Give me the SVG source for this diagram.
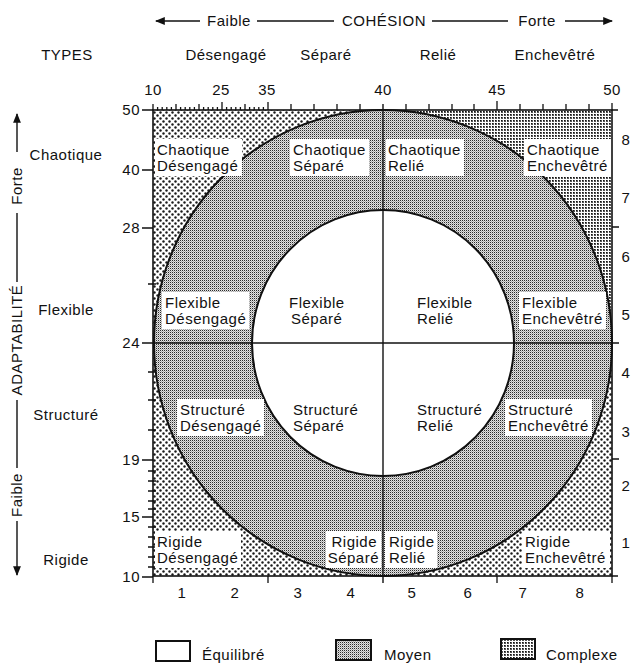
<svg xmlns="http://www.w3.org/2000/svg" width="633" height="666" viewBox="0 0 633 666">
<style>
text{font-family:"Liberation Sans",Arial,sans-serif;font-size:15px;letter-spacing:0.5px;fill:#111}
.ln{stroke:#111;stroke-width:1.4;fill:none}
.tk{stroke:#111;stroke-width:1.3}
.lb{fill:#fff}
.mid{text-anchor:middle}
.end{text-anchor:end}
</style>
<defs>
<pattern id="pDots" width="6" height="6" patternUnits="userSpaceOnUse"><rect width="6" height="6" fill="#fff"/><circle cx="1.5" cy="1.5" r="1.2" fill="#1a1a1a"/><circle cx="4.5" cy="4.5" r="1.2" fill="#1a1a1a"/></pattern>
<pattern id="pFine" width="2" height="2" patternUnits="userSpaceOnUse"><rect width="2" height="2" fill="#e2e2e2"/><rect width="1" height="1" fill="#2a2a2a"/><rect x="1" y="1" width="1" height="1" fill="#aaa"/></pattern>
<pattern id="pGrid" width="3" height="3" patternUnits="userSpaceOnUse"><rect width="3" height="3" fill="#fff"/><rect width="2" height="2" fill="#555"/><rect width="1" height="1" fill="#111"/></pattern>
<marker id="ah" viewBox="0 0 10 10" refX="9" refY="5" markerWidth="7" markerHeight="7" orient="auto-start-reverse"><path d="M0,1 L10,5 L0,9 Z" fill="#111"/></marker>
</defs>

<!-- header -->
<g id="cohesion-axis">
<line class="ln" x1="200" y1="21" x2="156" y2="21" marker-end="url(#ah)"/>
<text x="229" y="26" class="mid">Faible</text>
<line class="ln" x1="257" y1="21" x2="334" y2="21"/>
<text x="384" y="26" class="mid">COHÉSION</text>
<line class="ln" x1="432" y1="21" x2="508" y2="21"/>
<text x="537" y="26" class="mid">Forte</text>
<line class="ln" x1="565" y1="21" x2="612" y2="21" marker-end="url(#ah)"/>
</g>
<g id="types-header">
<text x="67" y="60" class="mid">TYPES</text>
<text x="226" y="60" class="mid">Désengagé</text>
<text x="326" y="60" class="mid">Séparé</text>
<text x="438" y="60" class="mid">Relié</text>
<text x="555" y="60" class="mid">Enchevêtré</text>
</g>
<g id="adaptabilite-axis">
<line class="ln" x1="17" y1="152" x2="17" y2="114" marker-end="url(#ah)"/>
<text transform="translate(22,186) rotate(-90)" class="mid">Forte</text>
<line class="ln" x1="17" y1="213" x2="17" y2="282"/>
<text transform="translate(22,340) rotate(-90)" class="mid">ADAPTABILITÉ</text>
<line class="ln" x1="17" y1="400" x2="17" y2="468"/>
<text transform="translate(22,495) rotate(-90)" class="mid">Faible</text>
<line class="ln" x1="17" y1="521" x2="17" y2="575" marker-end="url(#ah)"/>
</g>
<g id="types-left">
<text x="66" y="160" class="mid">Chaotique</text>
<text x="66" y="315" class="mid">Flexible</text>
<text x="66" y="420" class="mid">Structuré</text>
<text x="66" y="565" class="mid">Rigide</text>
</g>

<!-- plot areas -->
<g id="plot">
<rect x="153" y="110" width="459" height="466" fill="url(#pDots)"/>
<rect x="383" y="110" width="229" height="233" fill="url(#pGrid)"/>
<ellipse cx="383" cy="343" rx="229" ry="233" fill="url(#pFine)" stroke="#111" stroke-width="2"/>
<ellipse cx="383" cy="343" rx="131" ry="133" fill="#fff" stroke="#111" stroke-width="2"/>
</g>

<g id="connectors">
<line class="ln" x1="383" y1="104" x2="383" y2="583"/>
<line class="ln" x1="142" y1="343" x2="619" y2="343"/>
<rect x="153" y="110" width="459" height="466" fill="none" stroke="#111" stroke-width="1.6"/>
</g>

<!-- axes ticks -->
<g id="top-ticks" class="tk">
<path d="M153,104V110M157.6,107V110M162.2,107V110M166.8,107V110M171.4,107V110M176,104V110M180.6,107V110M185.2,107V110M189.8,107V110M194.4,107V110M199,104V110M203.6,107V110M208.2,107V110M212.8,107V110M217.4,107V110M222,102V110M226.6,107V110M231.2,107V110M235.8,107V110M240.4,107V110M245,104V110M249.6,107V110M254.2,107V110M258.8,107V110M263.4,107V110M268,102V110M291,104V110M314,104V110M337,104V110M360,104V110M406,104V110M429,104V110M452,104V110M474,104V110M497,101V110M520,104V110M543,104V110M566,104V110M589,104V110M612,103V110M612,110H618"/>
</g>
<g id="left-ticks" class="tk">
<path d="M142,110H153M142,170H153M142,228H153M142,460H153M142,517H153M142,577H153M148,284H156M148,372H156M148,400H156M148,430H156M148,471H156M148,481H156M148,491H156M148,501H156M148,509H156M148,527H156M148,537H156M148,547H156M148,557H156M148,567H156"/>
</g>
<g id="right-ticks" class="tk">
<path d="M612,227H619M612,459H619M612,576H618M612,576V583M153,576V583M268,576V583M497,576V583"/>
</g>
<g id="axis-numbers">
<text x="153" y="95" class="mid">10</text>
<text x="221" y="95" class="mid">25</text>
<text x="267" y="95" class="mid">35</text>
<text x="383" y="95" class="mid">40</text>
<text x="497" y="95" class="mid">45</text>
<text x="612" y="95" class="mid">50</text>
<text x="140" y="115" class="end">50</text>
<text x="140" y="175" class="end">40</text>
<text x="140" y="233" class="end">28</text>
<text x="140" y="348" class="end">24</text>
<text x="140" y="465" class="end">19</text>
<text x="140" y="522" class="end">15</text>
<text x="140" y="582" class="end">10</text>
<text x="626" y="145" class="mid">8</text>
<text x="626" y="203" class="mid">7</text>
<text x="626" y="262" class="mid">6</text>
<text x="626" y="320" class="mid">5</text>
<text x="626" y="378" class="mid">4</text>
<text x="626" y="437" class="mid">3</text>
<text x="626" y="491" class="mid">2</text>
<text x="626" y="548" class="mid">1</text>
<text x="182" y="598" class="mid">1</text>
<text x="235" y="598" class="mid">2</text>
<text x="298" y="598" class="mid">3</text>
<text x="351" y="598" class="mid">4</text>
<text x="412" y="598" class="mid">5</text>
<text x="468" y="598" class="mid">6</text>
<text x="523" y="598" class="mid">7</text>
<text x="580" y="598" class="mid">8</text>
</g>

<!-- cell labels -->
<g id="chaotique-desengage"><rect class="lb" x="155" y="139" width="87" height="37"/><text x="157" y="155">Chaotique</text><text x="157" y="171">Désengagé</text></g>
<g id="chaotique-separe"><rect class="lb" x="290" y="139" width="79" height="37"/><text x="293" y="155">Chaotique</text><text x="293" y="171">Séparé</text></g>
<g id="chaotique-relie"><rect class="lb" x="386" y="139" width="78" height="37"/><text x="388" y="155">Chaotique</text><text x="388" y="171">Relié</text></g>
<g id="chaotique-enchevetre"><rect class="lb" x="524" y="139" width="87" height="37"/><text x="527" y="155">Chaotique</text><text x="527" y="171">Enchevêtré</text></g>

<g id="flexible-desengage"><rect class="lb" x="162" y="292" width="87" height="37"/><text x="165" y="308">Flexible</text><text x="165" y="324">Désengagé</text></g>
<g id="flexible-separe"><text x="289" y="308">Flexible</text><text x="291" y="324">Séparé</text></g>
<g id="flexible-relie"><text x="417" y="308">Flexible</text><text x="417" y="324">Relié</text></g>
<g id="flexible-enchevetre"><rect class="lb" x="519" y="292" width="87" height="37"/><text x="522" y="308">Flexible</text><text x="522" y="324">Enchevêtré</text></g>

<g id="structure-desengage"><rect class="lb" x="177" y="399" width="87" height="37"/><text x="180" y="415">Structuré</text><text x="180" y="431">Désengagé</text></g>
<g id="structure-separe"><text x="293" y="415">Structuré</text><text x="293" y="431">Séparé</text></g>
<g id="structure-relie"><text x="417" y="415">Structuré</text><text x="417" y="431">Relié</text></g>
<g id="structure-enchevetre"><rect class="lb" x="505" y="399" width="87" height="37"/><text x="508" y="415">Structuré</text><text x="508" y="431">Enchevêtré</text></g>

<g id="rigide-desengage"><rect class="lb" x="155" y="531" width="86" height="37"/><text x="157" y="547">Rigide</text><text x="157" y="563">Désengagé</text></g>
<g id="rigide-separe"><rect class="lb" x="326" y="531" width="55" height="37"/><text x="377" y="547" class="end">Rigide</text><text x="379" y="563" class="end">Séparé</text></g>
<g id="rigide-relie"><rect class="lb" x="385" y="531" width="52" height="37"/><text x="389" y="547">Rigide</text><text x="389" y="563">Relié</text></g>
<g id="rigide-enchevetre"><rect class="lb" x="522" y="531" width="88" height="37"/><text x="525" y="547">Rigide</text><text x="525" y="563">Enchevêtré</text></g>

<!-- legend -->
<g id="legend-equilibre"><rect x="156" y="641" width="34" height="20" fill="#fff" stroke="#111" stroke-width="2"/><text x="202" y="660">Équilibré</text></g>
<g id="legend-moyen"><rect x="336" y="640" width="35" height="20" fill="url(#pFine)" stroke="#111" stroke-width="2"/><text x="384" y="660">Moyen</text></g>
<g id="legend-complexe"><rect x="501" y="639" width="34" height="20" fill="url(#pGrid)" stroke="#111" stroke-width="2"/><text x="546" y="660">Complexe</text></g>
</svg>
